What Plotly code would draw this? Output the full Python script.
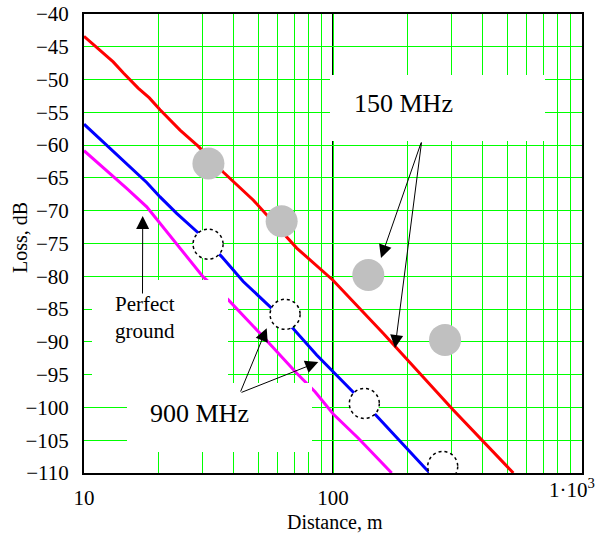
import plotly.graph_objects as go

# ---- data ----
dist_150 = [10, 11.2, 13.1, 14.4, 16.5, 18.3, 20.2, 24.3, 28.8, 36.2, 47.9, 71.5, 100, 159, 304, 530]
loss_150 = [-43.4, -45.1, -47.3, -49.0, -51.3, -52.8, -54.6, -57.7, -60.2, -64.1, -68.4, -75.7, -80.6, -88.7, -100.4, -110.0]

dist_900 = [10, 11.95, 13.95, 17.86, 20.2, 23.56, 28.8, 35.7, 43.6, 55.8, 69.3, 86.0, 106.7, 120.6, 149.8, 237.7, 245]
loss_900 = [-56.8, -59.5, -61.8, -65.7, -67.9, -70.4, -73.4, -77.0, -80.8, -84.6, -88.0, -92.0, -95.6, -97.6, -101.3, -109.5, -110.0]

dist_pg = [10, 12.72, 14.84, 17.86, 20.2, 24.3, 30.1, 38.0, 50.9, 71.5, 84.7, 100.2, 126.4, 172.1]
loss_pg = [-60.85, -64.3, -66.6, -69.4, -71.9, -75.7, -80.1, -83.6, -88.7, -94.8, -97.6, -101.0, -104.7, -110.0]

meas_150_d = [31.6, 62.2, 138.6, 281.8]
meas_150_l = [-62.8, -71.6, -79.8, -89.7]

meas_900_d = [31.5, 64.2, 133.6, 275.8]
meas_900_l = [-75.1, -85.8, -99.4, -109.0]

x_tickvals = [10, 20, 30, 40, 50, 60, 70, 80, 90, 100, 200, 300, 400, 500, 600, 700, 800, 900, 1000]
x_ticktext = ["10", "", "", "", "", "", "", "", "", "100", "", "", "", "", "", "", "", "", ""]
x_last_label = "1·10<sup>3</sup>"

# ---- layout geometry (pixels) ----
W, H = 604, 534
L, R, T, B = 84, 582, 14, 473
FONT = "Liberation Serif"
GREEN = "#00ff00"
X_DEC, Y_SPAN = 2.0, 70.0          # decades on x, dB on y
CIRCLE_R = 15                      # pixel radius of dotted circles


def px(x):
    return (x - L) / (R - L)


def py(y):
    return (B - y) / (B - T)


fig = go.Figure()

fig.add_trace(go.Scatter(x=dist_150, y=loss_150, mode="lines",
                         line=dict(color="#ff0000", width=3), showlegend=False))
fig.add_trace(go.Scatter(x=dist_900, y=loss_900, mode="lines",
                         line=dict(color="#0000ff", width=3), showlegend=False))
fig.add_trace(go.Scatter(x=dist_pg, y=loss_pg, mode="lines",
                         line=dict(color="#ff00ff", width=3), showlegend=False))
fig.add_trace(go.Scatter(x=meas_150_d, y=meas_150_l, mode="markers",
                         marker=dict(color="#c0c0c0", size=32, line=dict(width=0)),
                         showlegend=False))

shapes = []
# black vertical line at 100 m
shapes.append(dict(type="line", xref="x", yref="paper", x0=100, x1=100, y0=0, y1=1,
                   line=dict(color="black", width=2), layer="between"))
# white text boxes
for (x0, y0, x1, y1) in [(330, 75, 545, 141), (92, 280, 228, 395), (127, 383, 312, 452)]:
    shapes.append(dict(type="rect", xref="paper", yref="paper",
                       x0=px(x0), x1=px(x1), y0=py(y1), y1=py(y0),
                       fillcolor="white", line=dict(width=0), layer="above"))
# dotted circles for 900 MHz measurements
kx = 10 ** (CIRCLE_R * X_DEC / (R - L))
dy = CIRCLE_R * Y_SPAN / (B - T)
for d, l in zip(meas_900_d, meas_900_l):
    shapes.append(dict(type="circle", xref="x", yref="y",
                       x0=d / kx, x1=d * kx, y0=l - dy, y1=l + dy,
                       fillcolor="white", line=dict(color="black", width=1.5, dash="dot"),
                       layer="above"))


def label(text, x, y, size, **kw):
    d = dict(text=text, xref="paper", yref="paper", x=px(x), y=py(y),
             xanchor="center", yanchor="middle", showarrow=False,
             font=dict(family=FONT, size=size, color="black"))
    d.update(kw)
    return d


annotations = [
    label("150 MHz", 403, 103, 26),
    label("900 MHz", 199, 413, 26),
    label("Perfect<br>ground", 113, 317, 21, xanchor="left", align="left"),
    label("Distance, m", 335, 522, 20),
    label("Loss, dB", 20, 238, 20, textangle=-90),
    label(x_last_label, 572, 488, 21),
]

arrows = [((142.5, 295), (142.7, 216)),
          ((240, 393), (266.7, 328.3)),
          ((240, 393), (318.3, 362)),
          ((421.7, 141), (381, 258)),
          ((421.7, 141), (395, 348))]
for (tx, ty), (hx, hy) in arrows:
    annotations.append(dict(text="", xref="paper", yref="paper", x=px(hx), y=py(hy),
                            ax=tx - hx, ay=ty - hy, axref="pixel", ayref="pixel",
                            showarrow=True, arrowhead=2, arrowsize=2.6, arrowwidth=1,
                            arrowcolor="black", standoff=0, startstandoff=0))

fig.update_layout(
    width=W, height=H,
    margin=dict(l=L, r=W - R, t=T, b=H - B, autoexpand=False),
    paper_bgcolor="white", plot_bgcolor="white",
    font=dict(family=FONT, color="black"),
    shapes=shapes, annotations=annotations,
    showlegend=False,
)
fig.update_xaxes(type="log", range=[1, 3], tickvals=x_tickvals, ticktext=x_ticktext,
                 showgrid=True, gridcolor=GREEN, gridwidth=1, zeroline=False,
                 showline=True, linecolor="black", linewidth=2, mirror=True,
                 ticks="outside", ticklen=5, tickcolor="rgba(0,0,0,0)", automargin=False,
                 tickfont=dict(family=FONT, size=21, color="black"))
fig.update_yaxes(range=[-110, -40], dtick=5, tick0=-110,
                 showgrid=True, gridcolor=GREEN, gridwidth=1, zeroline=False,
                 showline=True, linecolor="black", linewidth=2, mirror=True,
                 ticks="outside", ticklen=9, tickcolor="rgba(0,0,0,0)", automargin=False,
                 tickfont=dict(family=FONT, size=21, color="black"))

fig.write_html("out.html")
